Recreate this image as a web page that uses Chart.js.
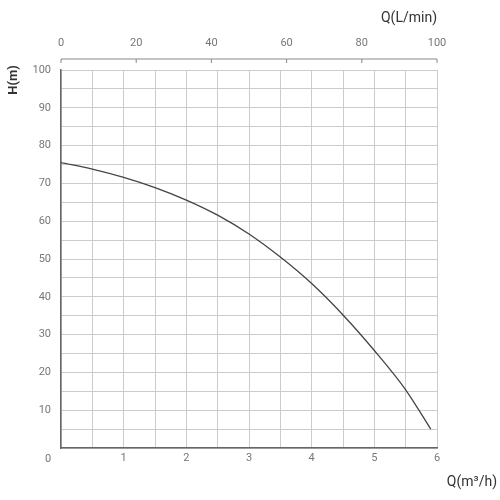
<!DOCTYPE html><html><head><script src="https://cdn.jsdelivr.net/npm/chart.js"></script>
<style>body{margin:0;background:#fff}#w{width:500px;height:500px}</style></head><body><div id="w"><canvas id="c"></canvas></div>
<script>
const flowM3h=[0,0.5,1,1.5,2,2.5,3,3.5,4,4.5,5,5.5,5.9];
const head=[75.5,73.8,71.6,68.9,65.6,61.6,56.6,50.5,43.5,35.2,25.8,15.4,5];
const topTicks=[0,20,40,60,80,100];
const font={family:'Roboto',size:11};
const extra={id:'extra',afterDraw(ch){
 const c=ch.ctx,a=ch.chartArea,t=ch.scales.x2;
 c.save();c.strokeStyle='#888';c.lineWidth=1;
 const y=a.top-11;c.beginPath();c.moveTo(a.left,y);c.lineTo(a.right,y);
 topTicks.forEach(v=>{const x=t.getPixelForValue(v);c.moveTo(x,y);c.lineTo(x,y+4);});
 c.stroke();
 c.fillStyle='#777';c.font='11px Roboto';c.textAlign='center';c.textBaseline='middle';
 c.fillText('0',48,459);
 c.fillStyle='#333';c.font='14px Roboto';c.textAlign='right';
 c.fillText('Q(L/min)',a.right,18);c.fillText('Q(m³/h)',a.right+60,482);
 c.translate(14,80);c.rotate(-Math.PI/2);c.textAlign='center';c.font='bold 13px Roboto';c.fillText('H(m)',0,0);
 c.restore();}};
new Chart(document.getElementById('c'),{type:'line',
data:{datasets:[{data:flowM3h.map((x,i)=>({x,y:head[i]})),borderColor:'#444',borderWidth:1.3,pointRadius:0,tension:0.4,cubicInterpolationMode:'monotone'}]},
options:{responsive:true,maintainAspectRatio:false,animation:false,layout:{padding:{right:63,left:0,top:0,bottom:0}},
plugins:{legend:{display:false},tooltip:{enabled:false}},
scales:{
 x:{type:'linear',min:0,max:6,afterFit(s){s.height=52},ticks:{stepSize:0.5,color:'#777',font,padding:4,maxRotation:0,callback:v=>(v>0&&Number.isInteger(v))?v:''},grid:{color:'#ccc',tickLength:0},border:{color:'#666',width:1.5}},
 x2:{type:'linear',position:'top',min:0,max:100,afterFit(s){s.height=70},ticks:{stepSize:20,color:'#777',font,padding:12,maxRotation:0},grid:{display:false},border:{display:false}},
 y:{min:0,max:100,afterFit(s){s.width=61},ticks:{stepSize:5,color:'#777',font,padding:10,callback:v=>(v>0&&v%10===0)?v:''},grid:{color:'#ccc',tickLength:0},border:{color:'#666',width:1.5}}
}}, plugins:[extra]});
</script></body></html>
